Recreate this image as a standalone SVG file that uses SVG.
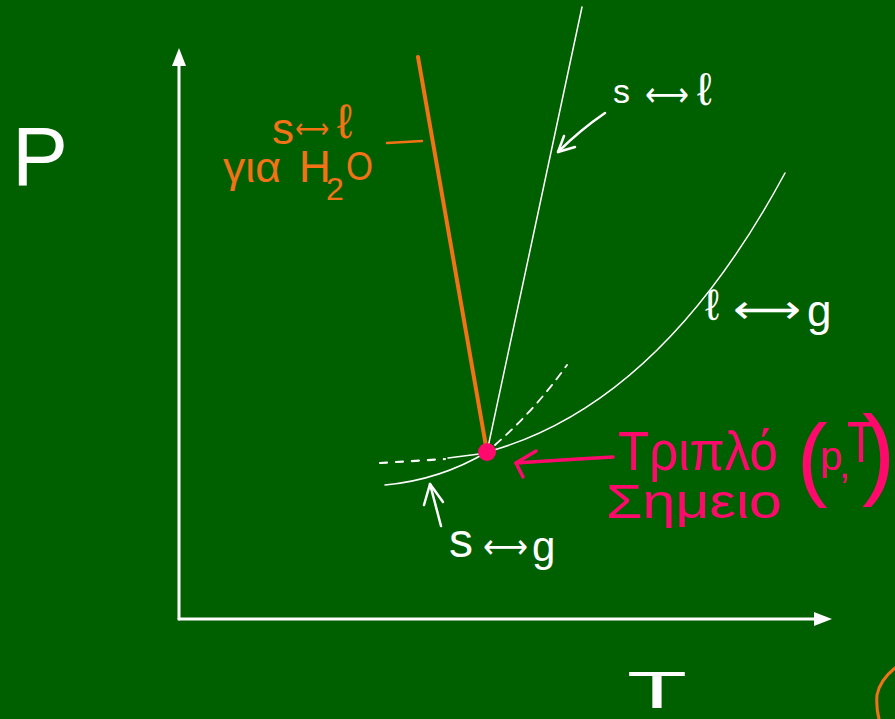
<svg xmlns="http://www.w3.org/2000/svg" width="895" height="719" viewBox="0 0 895 719">
<defs>
<style>
.w{fill:none;stroke:#ffffff;stroke-linecap:round;stroke-linejoin:round}
.o{fill:none;stroke:#f47216;stroke-linecap:round;stroke-linejoin:round}
.p{fill:none;stroke:#ff0a6c;stroke-linecap:round;stroke-linejoin:round}
.tw{fill:#ffffff;font-family:"Liberation Sans","DejaVu Sans",sans-serif}
.to{fill:#f47216;font-family:"Liberation Sans","DejaVu Sans",sans-serif}
.tp{fill:#ff0a6c;font-family:"Liberation Sans","DejaVu Sans",sans-serif}
.ar{font-family:"DejaVu Sans",sans-serif}
</style>
</defs>
<rect width="895" height="719" fill="#006000"/>

<g id="axes">
<line class="w" x1="179" y1="619" x2="179" y2="56" stroke-width="3"/>
<polygon points="179,48 172,66 186,66" fill="#ffffff"/>
<line class="w" x1="179" y1="619" x2="820" y2="619" stroke-width="3"/>
<polygon points="832,619 814,612 814,626" fill="#ffffff"/>
<text class="tw" x="12" y="185" font-size="84">P</text>
<text class="tw" x="627" y="708" font-size="52" textLength="60" lengthAdjust="spacingAndGlyphs">T</text>
</g>

<g id="curves">
<line class="w" x1="487" y1="452" x2="582" y2="7" stroke-width="1.5"/>
<path class="w" d="M487,452 Q660,405 785,173" stroke-width="1.5"/>
<path class="w" d="M495,445 Q535,410 567,365" stroke-width="1.8" stroke-dasharray="8,7"/>
<path class="w" d="M385,485 Q440,480 487,452" stroke-width="1.5"/>
<path class="w" d="M448,458 L487,453" stroke-width="1.5"/>
<path class="w" d="M380,463 L445,459" stroke-width="2.2" stroke-dasharray="7,9"/>
<line class="o" x1="418" y1="57" x2="487" y2="452" stroke-width="4"/>
<circle cx="487" cy="452" r="9" fill="#ff0a6c"/>
</g>

<g id="label-sl">
<text class="tw" x="613" y="103" font-size="34">s<tspan class="ar" x="645" y="106" textLength="44" lengthAdjust="spacingAndGlyphs">⟷</tspan><tspan x="697" y="105" font-size="46">ℓ</tspan></text>
<path class="w" d="M605,113 Q580,130 558,152" stroke-width="2.5"/>
<path class="w" d="M558,152 L564,136 M558,152 L575,147" stroke-width="2.5"/>
</g>

<g id="label-lg">
<text class="tw" x="705" y="320" font-size="44">ℓ<tspan class="ar" x="733" y="323" font-size="40" textLength="68" lengthAdjust="spacingAndGlyphs">⟷</tspan><tspan x="807" y="326">g</tspan></text>
</g>

<g id="label-sg">
<text class="tw" x="449" y="557" font-size="48">s<tspan class="ar" x="483" y="558" font-size="34" textLength="45" lengthAdjust="spacingAndGlyphs">⟷</tspan><tspan x="532" y="561" font-size="42">g</tspan></text>
<path class="w" d="M441,526 L430,484" stroke-width="2.5"/>
<path class="w" d="M430,484 L424,505 M430,484 L443,502" stroke-width="2.5"/>
</g>

<g id="label-h2o">
<text class="to" x="272" y="144" font-size="44">s<tspan class="ar" x="295" y="138" font-size="28" textLength="34" lengthAdjust="spacingAndGlyphs">⟷</tspan><tspan x="337" y="138" font-size="48">ℓ</tspan></text>
<text class="to" x="223" y="182" font-size="42"><tspan textLength="58" lengthAdjust="spacingAndGlyphs">για</tspan><tspan x="299" y="182" font-size="44">H</tspan><tspan x="326" y="200" font-size="32">2</tspan><tspan x="346" y="180" font-size="40" textLength="27" lengthAdjust="spacingAndGlyphs">O</tspan></text>
<line class="o" x1="387" y1="143" x2="422" y2="141" stroke-width="2.5"/>
</g>

<g id="label-triple">
<path class="p" d="M613,457 Q560,460 516,463" stroke-width="3.5"/>
<path class="p" d="M516,463 L536,451 M516,463 L523,477" stroke-width="3.5"/>
<text class="tp" x="618" y="470" font-size="56" textLength="160" lengthAdjust="spacingAndGlyphs">Τριπλό</text>
<text class="tp" x="606" y="518" font-size="48" textLength="176" lengthAdjust="spacingAndGlyphs">Σημειο</text>
<text class="tp" x="797" y="489" font-size="92">(<tspan x="820" y="470" font-size="40">p</tspan><tspan x="839" y="478" font-size="40">,</tspan><tspan x="847" y="462" font-size="58" textLength="28" lengthAdjust="spacingAndGlyphs">T</tspan><tspan x="862" y="486" font-size="100">)</tspan></text>
</g>

<g id="edge-mark">
<path class="o" d="M895,668 Q880,680 877,695 Q876,708 879,719" stroke-width="3"/>
</g>
</svg>
